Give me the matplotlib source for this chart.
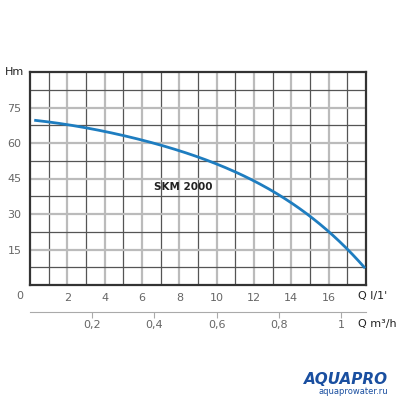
import matplotlib
matplotlib.use("Agg")
import matplotlib.pyplot as plt
import numpy as np

q_lmin = [0.3, 2, 4, 6, 8, 10, 12, 14, 16, 17, 17.9]
head_m = [69.5, 67.8, 65, 61.2, 56.5, 51, 44.5, 34.5, 22.5, 15, 7.7]
x_ticks = [2, 4, 6, 8, 10, 12, 14, 16]
y_ticks = [15, 30, 45, 60, 75]
m3h_ticks = [0.2, 0.4, 0.6, 0.8, 1.0]
m3h_labels = ["0,2", "0,4", "0,6", "0,8", "1"]

fig = plt.figure(figsize=(4, 4), dpi=100)
ax = fig.add_axes([0.075, 0.2875, 0.84, 0.5325])
ax.set_xlim(0, 18)
ax.set_ylim(0, 90)
for x in range(1, 18):
    ax.axvline(x, color="#555555" if x % 2 else "#bbbbbb", lw=0.9 if x % 2 else 1.6, zorder=1)
for i in range(1, 12):
    ax.axhline(i * 7.5, color="#555555" if i % 2 else "#bbbbbb", lw=0.9 if i % 2 else 1.6, zorder=1)
for s in ax.spines.values():
    s.set_color("#333333"); s.set_linewidth(1.6)
# smooth rendering through the read points
coef = np.polyfit(q_lmin, head_m, 4)
xs = np.linspace(q_lmin[0], q_lmin[-1], 200)
ax.plot(xs, np.polyval(coef, xs), color="#1e7dc0", lw=2, zorder=3)
ax.set_xticks(x_ticks); ax.set_yticks(y_ticks)
ax.tick_params(length=0, labelsize=8, labelcolor="#666666", pad=6)
ax.text(8.2, 41.5, "SKM 2000", fontsize=7.5, fontweight="bold", ha="center", va="center", color="#222222")
fig.text(0.05, 0.26, "0", fontsize=8, color="#666666", ha="center", va="center")
fig.text(0.035, 0.82, "Hm", fontsize=8, color="#222222", ha="center", va="center")
fig.text(0.895, 0.26, "Q l/1'", fontsize=8, color="#222222", ha="left", va="center")

ax2 = fig.add_axes([0.075, 0.22, 0.84, 0.001])
ax2.set_xlim(0, 18 / 16.667)
ax2.set_ylim(0, 1)
for k in ["top", "left", "right"]:
    ax2.spines[k].set_visible(False)
ax2.spines["bottom"].set_color("#aaaaaa")
ax2.set_yticks([])
ax2.set_xticks(m3h_ticks)
ax2.set_xticklabels(m3h_labels)
ax2.tick_params(axis="x", length=4, color="#aaaaaa", labelsize=8, labelcolor="#666666", pad=2)
fig.text(0.895, 0.19, "Q m³/h", fontsize=8, color="#222222", ha="left", va="center")

fig.text(0.97, 0.05, "AQUAPRO", fontsize=11, fontweight="bold", fontstyle="italic", color="#1a4fa0", ha="right", va="center")
fig.text(0.97, 0.02, "aquaprowater.ru", fontsize=6, color="#1a4fa0", ha="right", va="center")
fig.savefig("out.png", dpi=100)
